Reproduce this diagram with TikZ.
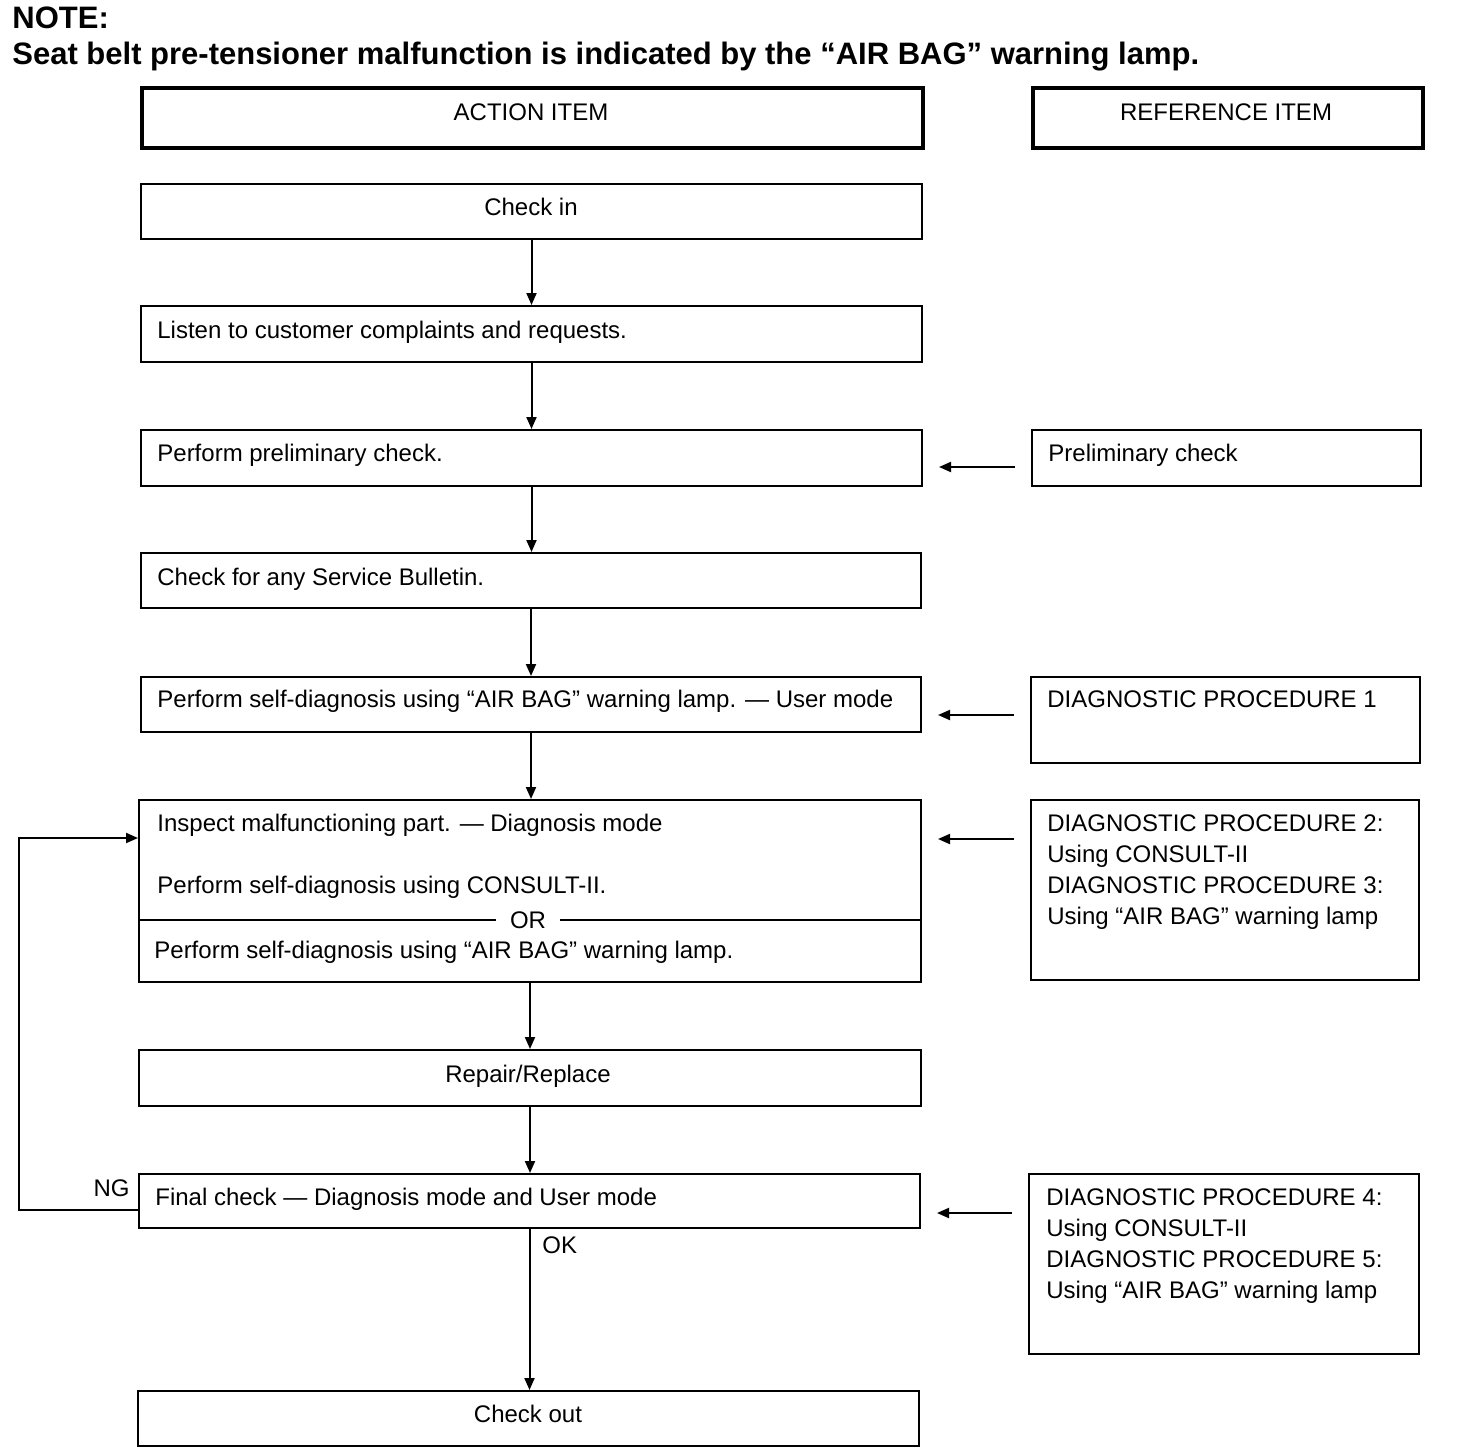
\documentclass[tikz,border=0pt]{standalone}
\usepackage{fontspec}
\setmainfont{Liberation Sans}
\usetikzlibrary{arrows.meta}
\newcommand\flowbox[6][box]{\node[#1, minimum width={(#5-#3)*0.5pt}, minimum height={(#6-#4)*0.5pt}] (#2) at (#3,#4) {};}
\begin{document}
\begin{tikzpicture}[x=0.5pt,y=-0.5pt,
  box/.style={draw, line width=1pt, inner sep=0pt, anchor=north west},
  hbox/.style={box, line width=2pt},
  txt/.style={anchor=base west, inner sep=0pt, font=\fontsize{12pt}{15.5pt}\selectfont},
  ctxt/.style={txt, anchor=base},
  title/.style={anchor=base west, inner sep=0pt, font=\fontsize{15.5pt}{18pt}\selectfont\bfseries},
  arr/.style={line width=1pt, -{Triangle[length=6pt,width=5pt]}},
  line/.style={line width=1pt}]
\useasboundingbox (0,0) rectangle (1456,1456);
% title
\node[title] (note) at (12,28) {NOTE:};
\node[title] (sub) at (12,64) {Seat belt pre-tensioner malfunction is indicated by the “AIR BAG” warning lamp.};
% headers
\flowbox[hbox]{hA}{140}{86}{921}{146}
\flowbox[hbox]{hR}{1031}{86}{1421}{146}
\node[ctxt] (thA) at (531,120) {ACTION ITEM};
\node[ctxt] (thR) at (1226,120) {REFERENCE ITEM};
% action boxes
\flowbox{ci}{140}{183}{921}{238}
\node[ctxt] (tci) at (531,215) {Check in};
\flowbox{li}{140}{305}{921}{361}
\node[txt] (tli) at (157,338) {Listen to customer complaints and requests.};
\flowbox{pp}{140}{429}{921}{485}
\node[txt] (tpp) at (157,461) {Perform preliminary check.};
\flowbox{sb}{140}{552}{920}{607}
\node[txt] (tsb) at (157,585) {Check for any Service Bulletin.};
\flowbox{sd}{140}{676}{920}{731}
\node[txt] (tsd) at (157,707) {Perform self-diagnosis using “AIR BAG” warning lamp. — User mode};
\flowbox{ins}{138}{799}{920}{981}
\node[txt] (tin1) at (157,831) {Inspect malfunctioning part. — Diagnosis mode};
\node[txt] (tin2) at (157,893) {Perform self-diagnosis using CONSULT-II.};
\node[txt, anchor=center, inner xsep=7pt] (or) at (528,920) {OR};
\draw[line] (ins.west |- or) -- (or.west);
\draw[line] (or.east) -- (ins.east |- or);
\node[txt] (tin3) at (154,958) {Perform self-diagnosis using “AIR BAG” warning lamp.};
\flowbox{rr}{138}{1049}{920}{1105}
\node[ctxt] (trr) at (528,1082) {Repair/Replace};
\flowbox{fc}{138}{1173}{919}{1227}
\node[txt] (tfc) at (155,1205) {Final check — Diagnosis mode and User mode};
\flowbox{co}{137}{1390}{918}{1445}
\node[ctxt] (tco) at (528,1422) {Check out};
% reference boxes
\flowbox{rpc}{1031}{429}{1420}{485}
\node[txt] (trpc) at (1048,461) {Preliminary check};
\flowbox{rd1}{1030}{676}{1419}{762}
\node[txt] (trd1) at (1047,707) {DIAGNOSTIC PROCEDURE 1};
\flowbox{rd2}{1030}{799}{1418}{979}
\node[txt] (trd2a) at (1047,831) {DIAGNOSTIC PROCEDURE 2:};
\node[txt] (trd2b) at (1047,862) {Using CONSULT-II};
\node[txt] (trd2c) at (1047,893) {DIAGNOSTIC PROCEDURE 3:};
\node[txt] (trd2d) at (1047,924) {Using “AIR BAG” warning lamp};
\flowbox{rd4}{1028}{1173}{1418}{1353}
\node[txt] (trd4a) at (1046,1205) {DIAGNOSTIC PROCEDURE 4:};
\node[txt] (trd4b) at (1046,1236) {Using CONSULT-II};
\node[txt] (trd4c) at (1046,1267) {DIAGNOSTIC PROCEDURE 5:};
\node[txt] (trd4d) at (1046,1298) {Using “AIR BAG” warning lamp};
% vertical arrows
\draw[arr] (ci.south) -- (ci.south |- li.north);
\draw[arr] (li.south) -- (li.south |- pp.north);
\draw[arr] (pp.south) -- (pp.south |- sb.north);
\draw[arr] (sb.south) -- (sb.south |- sd.north);
\draw[arr] (sd.south) -- (sd.south |- ins.north);
\draw[arr] (ins.south) -- (ins.south |- rr.north);
\draw[arr] (rr.south) -- (rr.south |- fc.north);
\draw[arr] (fc.south) -- (fc.south |- co.north);
% horizontal arrows
\draw[arr, shorten <=8pt, shorten >=8pt] (rpc.west |- 0,467) -- (pp.east |- 0,467);
\draw[arr, shorten <=8pt, shorten >=8pt] (rd1.west |- 0,715) -- (sd.east |- 0,715);
\draw[arr, shorten <=8pt, shorten >=8pt] (rd2.west |- 0,839) -- (ins.east |- 0,839);
\draw[arr, shorten <=8pt, shorten >=8pt] (rd4.west |- 0,1213) -- (fc.east |- 0,1213);
% feedback
\coordinate (fb1) at (19,1210);
\coordinate (fb2) at (19,838);
\draw[arr] (fc.west |- fb1) -- (fb1) -- (fb2) -- (ins.west |- fb2);
\node[txt, anchor=base east] (ng) at (130,1196) {NG};
\node[txt] (ok) at (542,1253) {OK};
\end{tikzpicture}
\end{document}
